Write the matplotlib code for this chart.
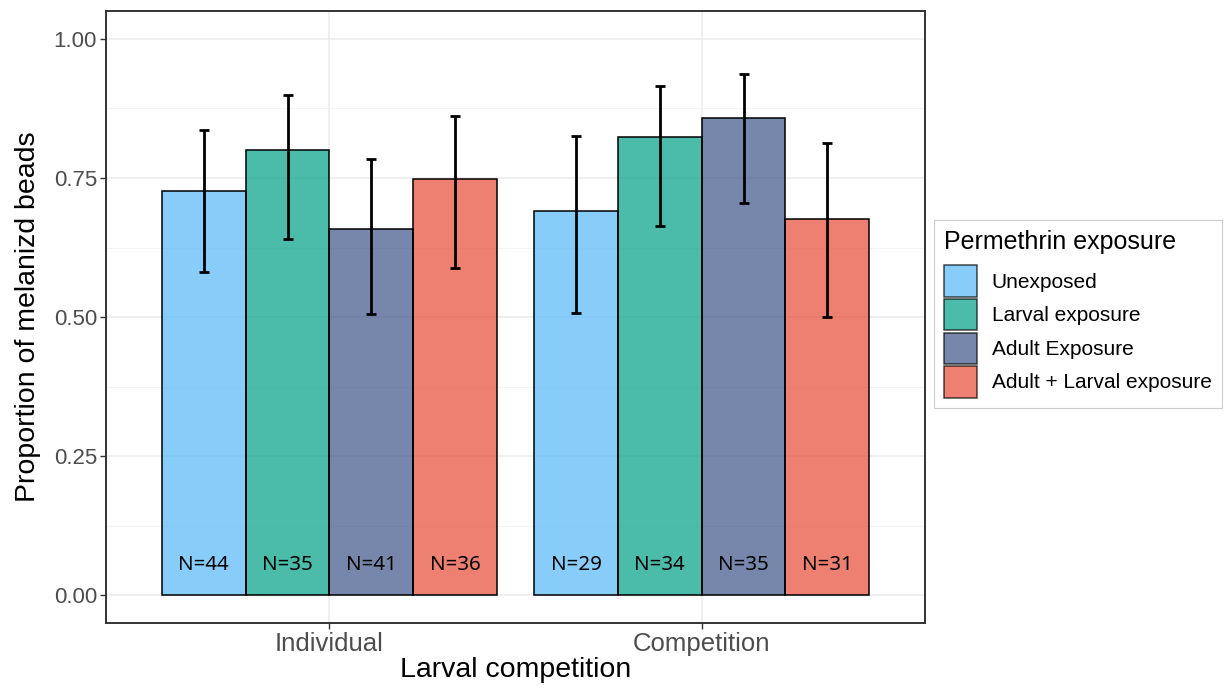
"""
Proportion of melanized beads by larval competition and permethrin exposure.
"""
import matplotlib
matplotlib.use('Agg')
import matplotlib.pyplot as plt
from matplotlib.patches import Patch
import numpy as np

# data
competition = ['Individual', 'Competition']
exposure = ['Unexposed', 'Larval exposure', 'Adult Exposure', 'Adult + Larval exposure']
proportion = {
    'Unexposed': [0.727, 0.691],
    'Larval exposure': [0.800, 0.824],
    'Adult Exposure': [0.659, 0.858],
    'Adult + Larval exposure': [0.749, 0.677],
}
ci_upper = {
    'Unexposed': [0.837, 0.826],
    'Larval exposure': [0.899, 0.916],
    'Adult Exposure': [0.784, 0.937],
    'Adult + Larval exposure': [0.862, 0.813],
}
ci_lower = {
    'Unexposed': [0.582, 0.507],
    'Larval exposure': [0.641, 0.664],
    'Adult Exposure': [0.506, 0.705],
    'Adult + Larval exposure': [0.589, 0.501],
}
sample_size = {
    'Unexposed': [44, 29],
    'Larval exposure': [35, 34],
    'Adult Exposure': [41, 35],
    'Adult + Larval exposure': [36, 31],
}

colors = ['#56B9F8', '#00A087', '#3C5488', '#E64B35']
FILL_ALPHA = 0.7
SANS = ['Liberation Sans', 'DejaVu Sans']

plt.rcParams['font.family'] = SANS

fig = plt.figure(figsize=(12.27, 6.89), dpi=100)
ax = fig.add_axes([0.0864, 0.0954, 0.6675, 0.8886])

x = np.arange(1, len(competition) + 1)
bar_w = 0.225
offsets = (np.arange(len(exposure)) - 1.5) * bar_w

ax.set_axisbelow(True)
for i, grp in enumerate(exposure):
    xs = x + offsets[i]
    vals = np.array(proportion[grp])
    ax.bar(xs, vals, width=bar_w, color=colors[i], alpha=FILL_ALPHA,
           edgecolor='none', zorder=2)
    ax.bar(xs, vals, width=bar_w, facecolor='none', edgecolor='black',
           linewidth=1.1, zorder=3)
    lo = vals - np.array(ci_lower[grp])
    hi = np.array(ci_upper[grp]) - vals
    ax.errorbar(xs, vals, yerr=[lo, hi], fmt='none', ecolor='black',
                elinewidth=2.0, capsize=3.3, capthick=2.0, zorder=4)
    for xi, n in zip(xs, sample_size[grp]):
        ax.text(xi, 0.054, f'N={n}', ha='center', va='center',
                fontsize=14.8, family=['Liberation Sans Narrow', 'Noto Sans', 'DejaVu Sans'],
                color='black', zorder=5)

ax.set_xlim(0.4, 2.6)
ax.set_ylim(-0.05, 1.05)
ax.set_xticks(x)
ax.set_xticklabels(competition)
ax.set_yticks([0, 0.25, 0.5, 0.75, 1.0])
ax.set_yticklabels(['0.00', '0.25', '0.50', '0.75', '1.00'])
ax.set_yticks([0.125, 0.375, 0.625, 0.875], minor=True)

ax.grid(True, which='major', color='#EBEBEB', linewidth=1.1, zorder=0)
ax.grid(True, which='minor', axis='y', color='#F2F2F2', linewidth=0.6, zorder=0)

ax.tick_params(axis='x', which='major', length=4, width=1, color='#333333',
               labelsize=18.5, labelcolor='#4D4D4D', pad=2)
ax.tick_params(axis='y', which='major', length=4.5, width=1, color='#333333',
               labelsize=16, labelcolor='#4D4D4D', pad=2)
ax.tick_params(axis='y', which='minor', length=0)

for spine in ax.spines.values():
    spine.set_color('#333333')
    spine.set_linewidth(1.4)

ax.set_xlabel('Larval competition', fontsize=20.5, color='black', labelpad=1)
ax.set_ylabel('Proportion of melanizd beads', fontsize=20.5, color='black', labelpad=9)

handles = [Patch(facecolor=c, alpha=FILL_ALPHA, edgecolor='black', linewidth=1.1)
           for c in colors]
leg = fig.legend(handles, exposure, title='Permethrin exposure',
                 loc='upper left', bbox_to_anchor=(0.7612, 0.681),
                 fontsize=15, title_fontsize=18, frameon=True,
                 fancybox=False, edgecolor='#CCCCCC', framealpha=1,
                 handlelength=1.55, handleheight=1.95, handletextpad=0.72,
                 labelspacing=0.1, borderpad=0.5, borderaxespad=0)
leg.get_frame().set_linewidth(0.8)
leg._legend_box.align = 'left'
leg._legend_box.sep = 8
for h in leg.legend_handles:
    h.set_edgecolor('black')

fig.savefig('out.png', dpi=100)
plt.close(fig)
